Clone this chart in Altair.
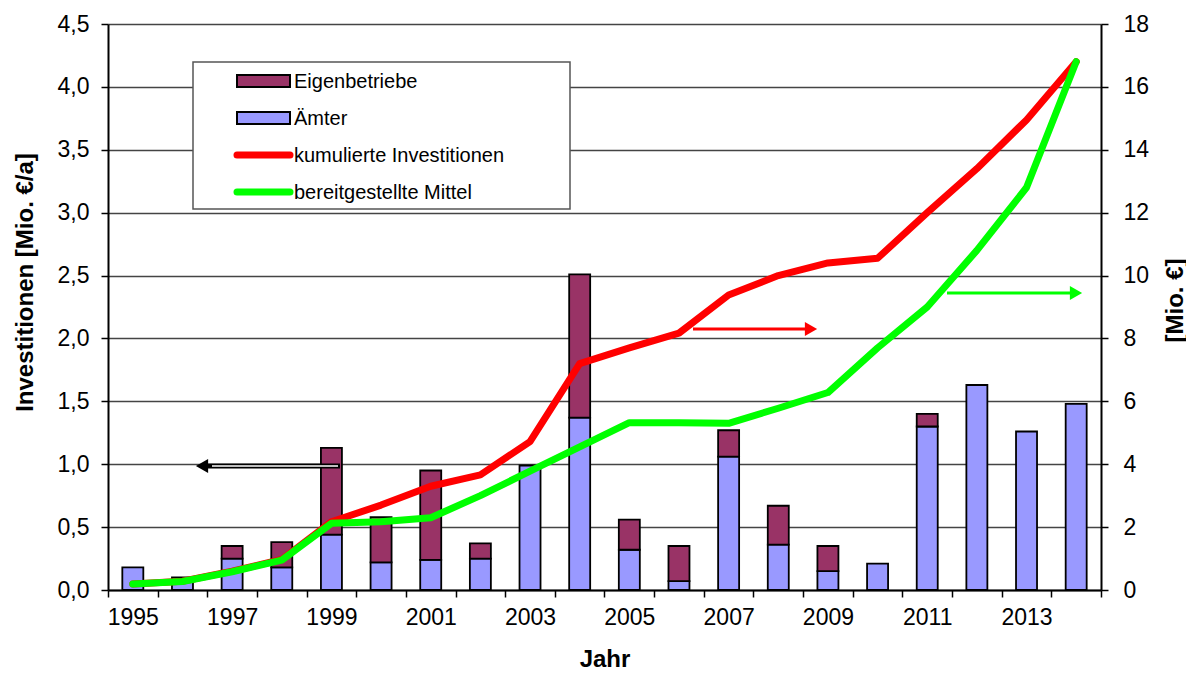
import altair as alt
import pandas as pd

FONT = "Liberation Sans"

years = list(range(1995, 2015))
# annual investments [Mio. €/a] (left axis)
aemter = [0.18, 0.10, 0.25, 0.18, 0.44, 0.22, 0.24, 0.25, 0.99, 1.37,
          0.32, 0.07, 1.06, 0.36, 0.15, 0.21, 1.30, 1.63, 1.26, 1.48]
eigenbetriebe = [0.0, 0.0, 0.10, 0.20, 0.69, 0.36, 0.71, 0.12, 0.0, 1.14,
                 0.24, 0.28, 0.21, 0.31, 0.20, 0.0, 0.10, 0.0, 0.0, 0.0]
# cumulative values [Mio. €] (right axis)
kumulierte = [0.19, 0.28, 0.60, 0.97, 2.17, 2.70, 3.30, 3.66, 4.72, 7.20,
              7.70, 8.17, 9.38, 10.0, 10.4, 10.55, 12.0, 13.4, 14.95, 16.8]
mittel = [0.19, 0.27, 0.58, 0.95, 2.12, 2.17, 2.30, 3.00, 3.78, 4.55,
          5.32, 5.32, 5.30, 5.78, 6.28, 7.70, 9.00, 10.8, 12.8, 16.8]

cat_names = ["Eigenbetriebe", "Ämter"]
line_names = ["kumulierte Investitionen", "bereitgestellte Mittel"]
left_ticks = [0, 0.5, 1.0, 1.5, 2.0, 2.5, 3.0, 3.5, 4.0, 4.5]
right_ticks = list(range(0, 19, 2))

rows = []
for y, a, e in zip(years, aemter, eigenbetriebe):
    if a > 0:
        rows.append({"year": y, "cat": "Ämter", "val": a})
    if e > 0:
        rows.append({"year": y, "cat": "Eigenbetriebe", "val": e})
bar_df = pd.DataFrame(rows)
line_df = pd.DataFrame({"year": years, "kum": kumulierte, "mittel": mittel})

x_enc = alt.X("year:O", scale=alt.Scale(paddingInner=0, paddingOuter=0), title="Jahr",
              axis=alt.Axis(tickBand="extent", labelAngle=0,
                            labelExpr="datum.value % 2 == 1 ? datum.label : ''",
                            labelOverlap=False, labelFontSize=23, labelColor="black",
                            labelPadding=9, tickSize=7, tickColor="black", tickWidth=1.5,
                            domainColor="black", domainWidth=2,
                            titleFontSize=24, titleFontWeight="bold", titleColor="black",
                            titleY=69, titleBaseline="middle"))

bars = alt.Chart(bar_df).mark_bar(size=21, stroke="black", strokeWidth=1.8).encode(
    x=x_enc,
    y=alt.Y("val:Q", stack="zero", scale=alt.Scale(domain=[0, 4.5], nice=False),
            title="Investitionen [Mio. €/a]",
            axis=alt.Axis(values=left_ticks,
                          labelExpr="replace(format(datum.value, '.1f'), '.', ',')",
                          labelFontSize=23, labelColor="black", labelPadding=12,
                          tickSize=7, tickColor="black", tickWidth=1.5,
                          domainColor="black", domainWidth=2,
                          grid=True, gridColor="#444444", gridWidth=1.3,
                          titleFontSize=24, titleFontWeight="bold", titleColor="black",
                          titleAngle=270, titleX=-83, titleY=258,
                          titleAlign="center", titleBaseline="middle")),
    color=alt.Color("cat:N", scale=alt.Scale(domain=cat_names, range=["#993366", "#9999FF"]),
                    legend=None),
    order=alt.Order("cat:N", sort="descending"),
)

red = alt.Chart(line_df).mark_line(color="#FF0000", strokeWidth=7, strokeCap="round",
                                   strokeJoin="round").encode(
    x=x_enc,
    y=alt.Y("kum:Q", scale=alt.Scale(domain=[0, 18], nice=False), title="[Mio. €]",
            axis=alt.Axis(orient="right", values=right_ticks, grid=False,
                          labelFontSize=23, labelColor="black", labelPadding=15,
                          tickSize=7, tickColor="black", tickWidth=1.5,
                          domainColor="black", domainWidth=2,
                          titleFontSize=24, titleFontWeight="bold", titleColor="black",
                          titleAngle=270, titleX=74, titleY=276,
                          titleAlign="center", titleBaseline="middle")),
)
green = alt.Chart(line_df).mark_line(color="#00FF00", strokeWidth=7, strokeCap="round",
                                     strokeJoin="round").encode(
    x=x_enc,
    y=alt.Y("mittel:Q", scale=alt.Scale(domain=[0, 18], nice=False), axis=None),
)

base = alt.Chart(pd.DataFrame({"k": [0]}))

layers = [bars, red, green]

# legend box
layers.append(base.mark_rect(fill="white", stroke="#555555", strokeWidth=1.5).encode(
    x=alt.value(85), x2=alt.value(462), y=alt.value(38), y2=alt.value(185)))
row_y = [57, 94, 131, 168]
sym_fill = ["#993366", "#9999FF"]
for i in range(2):
    layers.append(base.mark_rect(fill=sym_fill[i], stroke="black", strokeWidth=2).encode(
        x=alt.value(129), x2=alt.value(182), y=alt.value(row_y[i] - 6), y2=alt.value(row_y[i] + 6)))
line_cols = ["#FF0000", "#00FF00"]
for i in range(2):
    layers.append(base.mark_rule(color=line_cols[i], strokeWidth=7, strokeCap="round").encode(
        x=alt.value(129), x2=alt.value(182), y=alt.value(row_y[2 + i])))
legend_labels = cat_names + line_names
for i, lab in enumerate(legend_labels):
    layers.append(base.mark_text(align="left", baseline="middle", fontSize=20, font=FONT,
                                 color="black").encode(
        x=alt.value(186), y=alt.value(row_y[i] + 1), text=alt.value(lab)))

# arrows
layers.append(base.mark_rule(color="black", strokeWidth=5).encode(
    x=alt.value(100), x2=alt.value(232), y=alt.value(442)))
layers.append(base.mark_rule(color="white", strokeWidth=1.5).encode(
    x=alt.value(104), x2=alt.value(230), y=alt.value(442)))
layers.append(base.mark_point(shape="triangle-left", filled=True, color="black", size=200,
                              opacity=1).encode(x=alt.value(94), y=alt.value(442)))
layers.append(base.mark_rule(color="#FF0000", strokeWidth=3).encode(
    x=alt.value(585), x2=alt.value(700), y=alt.value(305)))
layers.append(base.mark_point(shape="triangle-right", filled=True, color="#FF0000", size=200,
                              opacity=1).encode(x=alt.value(703), y=alt.value(305)))
layers.append(base.mark_rule(color="#00FF00", strokeWidth=3).encode(
    x=alt.value(839), x2=alt.value(965), y=alt.value(269)))
layers.append(base.mark_point(shape="triangle-right", filled=True, color="#00FF00", size=200,
                              opacity=1).encode(x=alt.value(968), y=alt.value(269)))

chart = alt.layer(*layers).resolve_scale(y="independent").properties(
    width=993, height=566,
    autosize=alt.AutoSizeParams(type="none"),
    padding={"left": 100, "top": 16, "right": 85, "bottom": 83},
    background="white",
).configure(font=FONT).configure_axis(labelFont=FONT, titleFont=FONT).configure_view(stroke=None)

chart.save("out.html", embed_options={"renderer": "svg", "actions": False})
